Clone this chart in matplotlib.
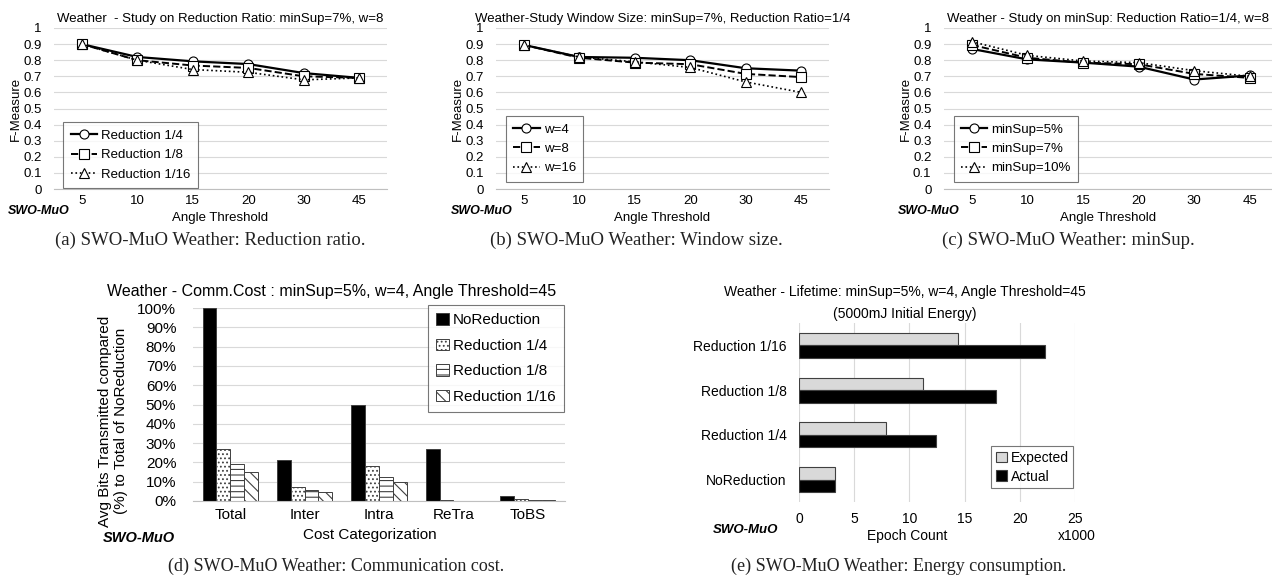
import matplotlib
matplotlib.use("Agg")
import matplotlib.pyplot as plt
import numpy as np

plt.rcParams['font.family'] = ['Liberation Sans', 'DejaVu Sans']
plt.rcParams['hatch.linewidth'] = 0.8

# ---- data ----
angles = ['5', '10', '15', '20', '30', '45']

# (a) reduction ratio
red_labels = ['Reduction 1/4', 'Reduction 1/8', 'Reduction 1/16']
red_vals = [
    [0.90, 0.82, 0.793, 0.776, 0.72, 0.69],
    [0.90, 0.80, 0.767, 0.752, 0.70, 0.69],
    [0.90, 0.80, 0.742, 0.725, 0.678, 0.69],
]

# (b) window size
win_labels = ['w=4', 'w=8', 'w=16']
win_vals = [
    [0.895, 0.82, 0.815, 0.80, 0.75, 0.735],
    [0.895, 0.815, 0.785, 0.775, 0.715, 0.695],
    [0.895, 0.82, 0.79, 0.755, 0.665, 0.60],
]

# (c) minSup
sup_labels = ['minSup=5%', 'minSup=7%', 'minSup=10%']
sup_vals = [
    [0.87, 0.805, 0.785, 0.76, 0.68, 0.705],
    [0.895, 0.815, 0.785, 0.775, 0.715, 0.69],
    [0.915, 0.83, 0.795, 0.785, 0.735, 0.70],
]

# (d) communication cost
cost_cats = ['Total', 'Inter', 'Intra', 'ReTra', 'ToBS']
cost_series = ['NoReduction', 'Reduction 1/4', 'Reduction 1/8', 'Reduction 1/16']
cost_vals = [
    [1.00, 0.21, 0.50, 0.27, 0.025],
    [0.27, 0.075, 0.18, 0.004, 0.010],
    [0.19, 0.055, 0.125, 0.002, 0.005],
    [0.15, 0.045, 0.10, 0.001, 0.005],
]

# (e) lifetime (x1000 epochs)
life_cats = ['NoReduction', 'Reduction 1/4', 'Reduction 1/8', 'Reduction 1/16']
life_expected = [3.3, 7.9, 11.25, 14.4]
life_actual = [3.3, 12.4, 17.85, 22.25]

W, H = 1272, 577
fig = plt.figure(figsize=(W / 100, H / 100), dpi=100)


def box(l, t, r, b):
    return [l / W, 1 - b / H, (r - l) / W, (b - t) / H]


def fx(px):
    return px / W


def fy(py):
    return 1 - py / H


grid_c = '#d9d9d9'
styles = [('-', 'o', 1.6), ('--', 's', 1.4), (':', '^', 1.2)]
cap_font = dict(family='Liberation Serif', ha='center', va='center', color='#222222')
swo_font = dict(fontweight='bold', style='italic', va='center')


def line_panel(rect, vals, labels, title, leg_box, swo_x, cap, cap_x, xmax=5.5):
    ax = fig.add_axes(rect)
    x = np.arange(len(angles))
    for v, lab, (ls, mk, lw) in zip(vals, labels, styles):
        ax.plot(x, v, linestyle=ls, marker=mk, color='black', lw=lw,
                markersize=6.5, markerfacecolor='white', markeredgewidth=0.8,
                label=lab)
    ax.set_xlim(-0.5, xmax)
    ax.set_ylim(0, 1)
    ax.set_yticks(np.arange(0, 1.01, 0.1))
    ax.set_yticklabels(['0'] + ['%.1f' % t for t in np.arange(0.1, 0.95, 0.1)] + ['1'])
    ax.set_xticks(x)
    ax.set_xticklabels(angles)
    ax.grid(axis='y', color=grid_c, lw=0.8)
    ax.set_axisbelow(True)
    for s in ['top', 'right', 'left']:
        ax.spines[s].set_visible(False)
    ax.spines['bottom'].set_color('#bfbfbf')
    ax.tick_params(length=0, labelsize=9.5, pad=4)
    ax.tick_params(axis='y', pad=9)
    ax.set_ylabel('F-Measure', fontsize=9.5, labelpad=1)
    ax.set_xlabel('Angle Threshold', fontsize=9.5, labelpad=4)
    ax.set_title(title, fontsize=9.5, pad=4)
    leg = ax.legend(loc='lower left', bbox_to_anchor=leg_box, frameon=True,
                    fancybox=False, edgecolor='#555555', fontsize=9.5,
                    handlelength=2.0, labelspacing=0.55, borderpad=0.55,
                    handletextpad=0.3, borderaxespad=0)
    leg.get_frame().set_linewidth(0.8)
    fig.text(fx(swo_x), fy(211), 'SWO-MuO', fontsize=9, **swo_font)
    fig.text(fx(cap_x), fy(240), cap, fontsize=13.5, **cap_font)
    return ax


line_panel(box(54, 28, 387, 189), red_vals, red_labels,
           'Weather  - Study on Reduction Ratio: minSup=7%, w=8',
           (0.028, 0.006), 8, '(a) SWO-MuO Weather: Reduction ratio.', 210)
line_panel(box(496, 28, 829, 189), win_vals, win_labels,
           'Weather-Study Window Size: minSup=7%, Reduction Ratio=1/4',
           (0.03, 0.045), 451, '(b) SWO-MuO Weather: Window size.', 636)
line_panel(box(944, 28, 1272, 189), sup_vals, sup_labels,
           'Weather - Study on minSup: Reduction Ratio=1/4, w=8',
           (0.03, 0.045), 898, '(c) SWO-MuO Weather: minSup.', 1068, xmax=5.4)

# ---- (d) communication cost ----
ax = fig.add_axes(box(193, 308, 565, 501))
xc = np.arange(len(cost_cats))
bw = 0.185
fills = [('black', ''), ('white', '....'), ('white', '---'), ('white', '\\\\\\')]
for i, (v, lab, (fc, hat)) in enumerate(zip(cost_vals, cost_series, fills)):
    ax.bar(xc + (i - 1.5) * bw, v, bw, color=fc, hatch=hat, edgecolor='#404040',
           lw=0.7, label=lab)
ax.set_xlim(-0.5, 4.5)
ax.set_ylim(0, 1)
ax.set_yticks(np.arange(0, 1.01, 0.1))
ax.set_yticklabels(['%d%%' % round(t * 100) for t in np.arange(0, 1.01, 0.1)])
ax.set_xticks(xc)
ax.set_xticklabels(cost_cats)
ax.grid(axis='y', color=grid_c, lw=0.8)
ax.set_axisbelow(True)
for s in ['top', 'right', 'left']:
    ax.spines[s].set_visible(False)
ax.spines['bottom'].set_color('#bfbfbf')
ax.tick_params(length=0, labelsize=11, pad=5)
ax.tick_params(axis='y', pad=12)
leg = ax.legend(loc='upper right', bbox_to_anchor=(0.998, 1.018), frameon=True,
                fancybox=False, edgecolor='#555555', fontsize=11,
                handlelength=0.8, handleheight=0.8, labelspacing=0.75,
                borderpad=0.55, handletextpad=0.3, borderaxespad=0)
leg.get_frame().set_linewidth(0.8)
fig.text(fx(332), fy(292), 'Weather - Comm.Cost : minSup=5%, w=4, Angle Threshold=45',
         fontsize=11.5, ha='center', va='center')
fig.text(fx(113), fy(421), 'Avg Bits Transmitted compared\n(%) to Total of NoReduction',
         fontsize=11, rotation=90, ha='center', va='center', multialignment='center',
         linespacing=1.15)
fig.text(fx(370), fy(535), 'Cost Categorization', fontsize=11, ha='center', va='center')
fig.text(fx(103), fy(538), 'SWO-MuO', fontsize=10.5, **swo_font)
fig.text(fx(336), fy(566), '(d) SWO-MuO Weather: Communication cost.', fontsize=13,
         **cap_font)

# ---- (e) lifetime ----
ax = fig.add_axes(box(799, 323, 1075, 502))
yc = np.arange(len(life_cats))
bh = 0.28
ax.barh(yc + bh / 2, life_expected, bh, color='#d9d9d9', edgecolor='#404040',
        lw=0.8, label='Expected')
ax.barh(yc - bh / 2, life_actual, bh, color='black', edgecolor='#404040',
        lw=0.8, label='Actual')
ax.set_xlim(0, 25)
ax.set_ylim(-0.5, 3.5)
ax.set_xticks(np.arange(0, 26, 5))
ax.set_yticks(yc)
ax.set_yticklabels(life_cats)
ax.grid(axis='x', color=grid_c, lw=0.8)
ax.set_axisbelow(True)
for s in ['top', 'right', 'bottom', 'left']:
    ax.spines[s].set_visible(False)
ax.tick_params(length=0, labelsize=10, pad=9)
ax.tick_params(axis='x', pad=7)
leg = ax.legend(loc='lower right', bbox_to_anchor=(0.993, 0.08), frameon=True,
                fancybox=False, edgecolor='#555555', fontsize=10,
                handlelength=0.8, handleheight=0.8, labelspacing=0.35,
                borderpad=0.3, handletextpad=0.3, borderaxespad=0)
leg.get_frame().set_linewidth(0.8)
fig.text(fx(905), fy(292), 'Weather - Lifetime: minSup=5%, w=4, Angle Threshold=45',
         fontsize=10, ha='center', va='center')
fig.text(fx(905), fy(314), '(5000mJ Initial Energy)', fontsize=10,
         ha='center', va='center')
fig.text(fx(907), fy(536), 'Epoch Count', fontsize=10, ha='center', va='center')
fig.text(fx(1077), fy(536), 'x1000', fontsize=10, ha='center', va='center')
fig.text(fx(713), fy(530), 'SWO-MuO', fontsize=9.5, **swo_font)
fig.text(fx(899), fy(566), '(e) SWO-MuO Weather: Energy consumption.', fontsize=13,
         **cap_font)

fig.savefig('out.png', dpi=100)
